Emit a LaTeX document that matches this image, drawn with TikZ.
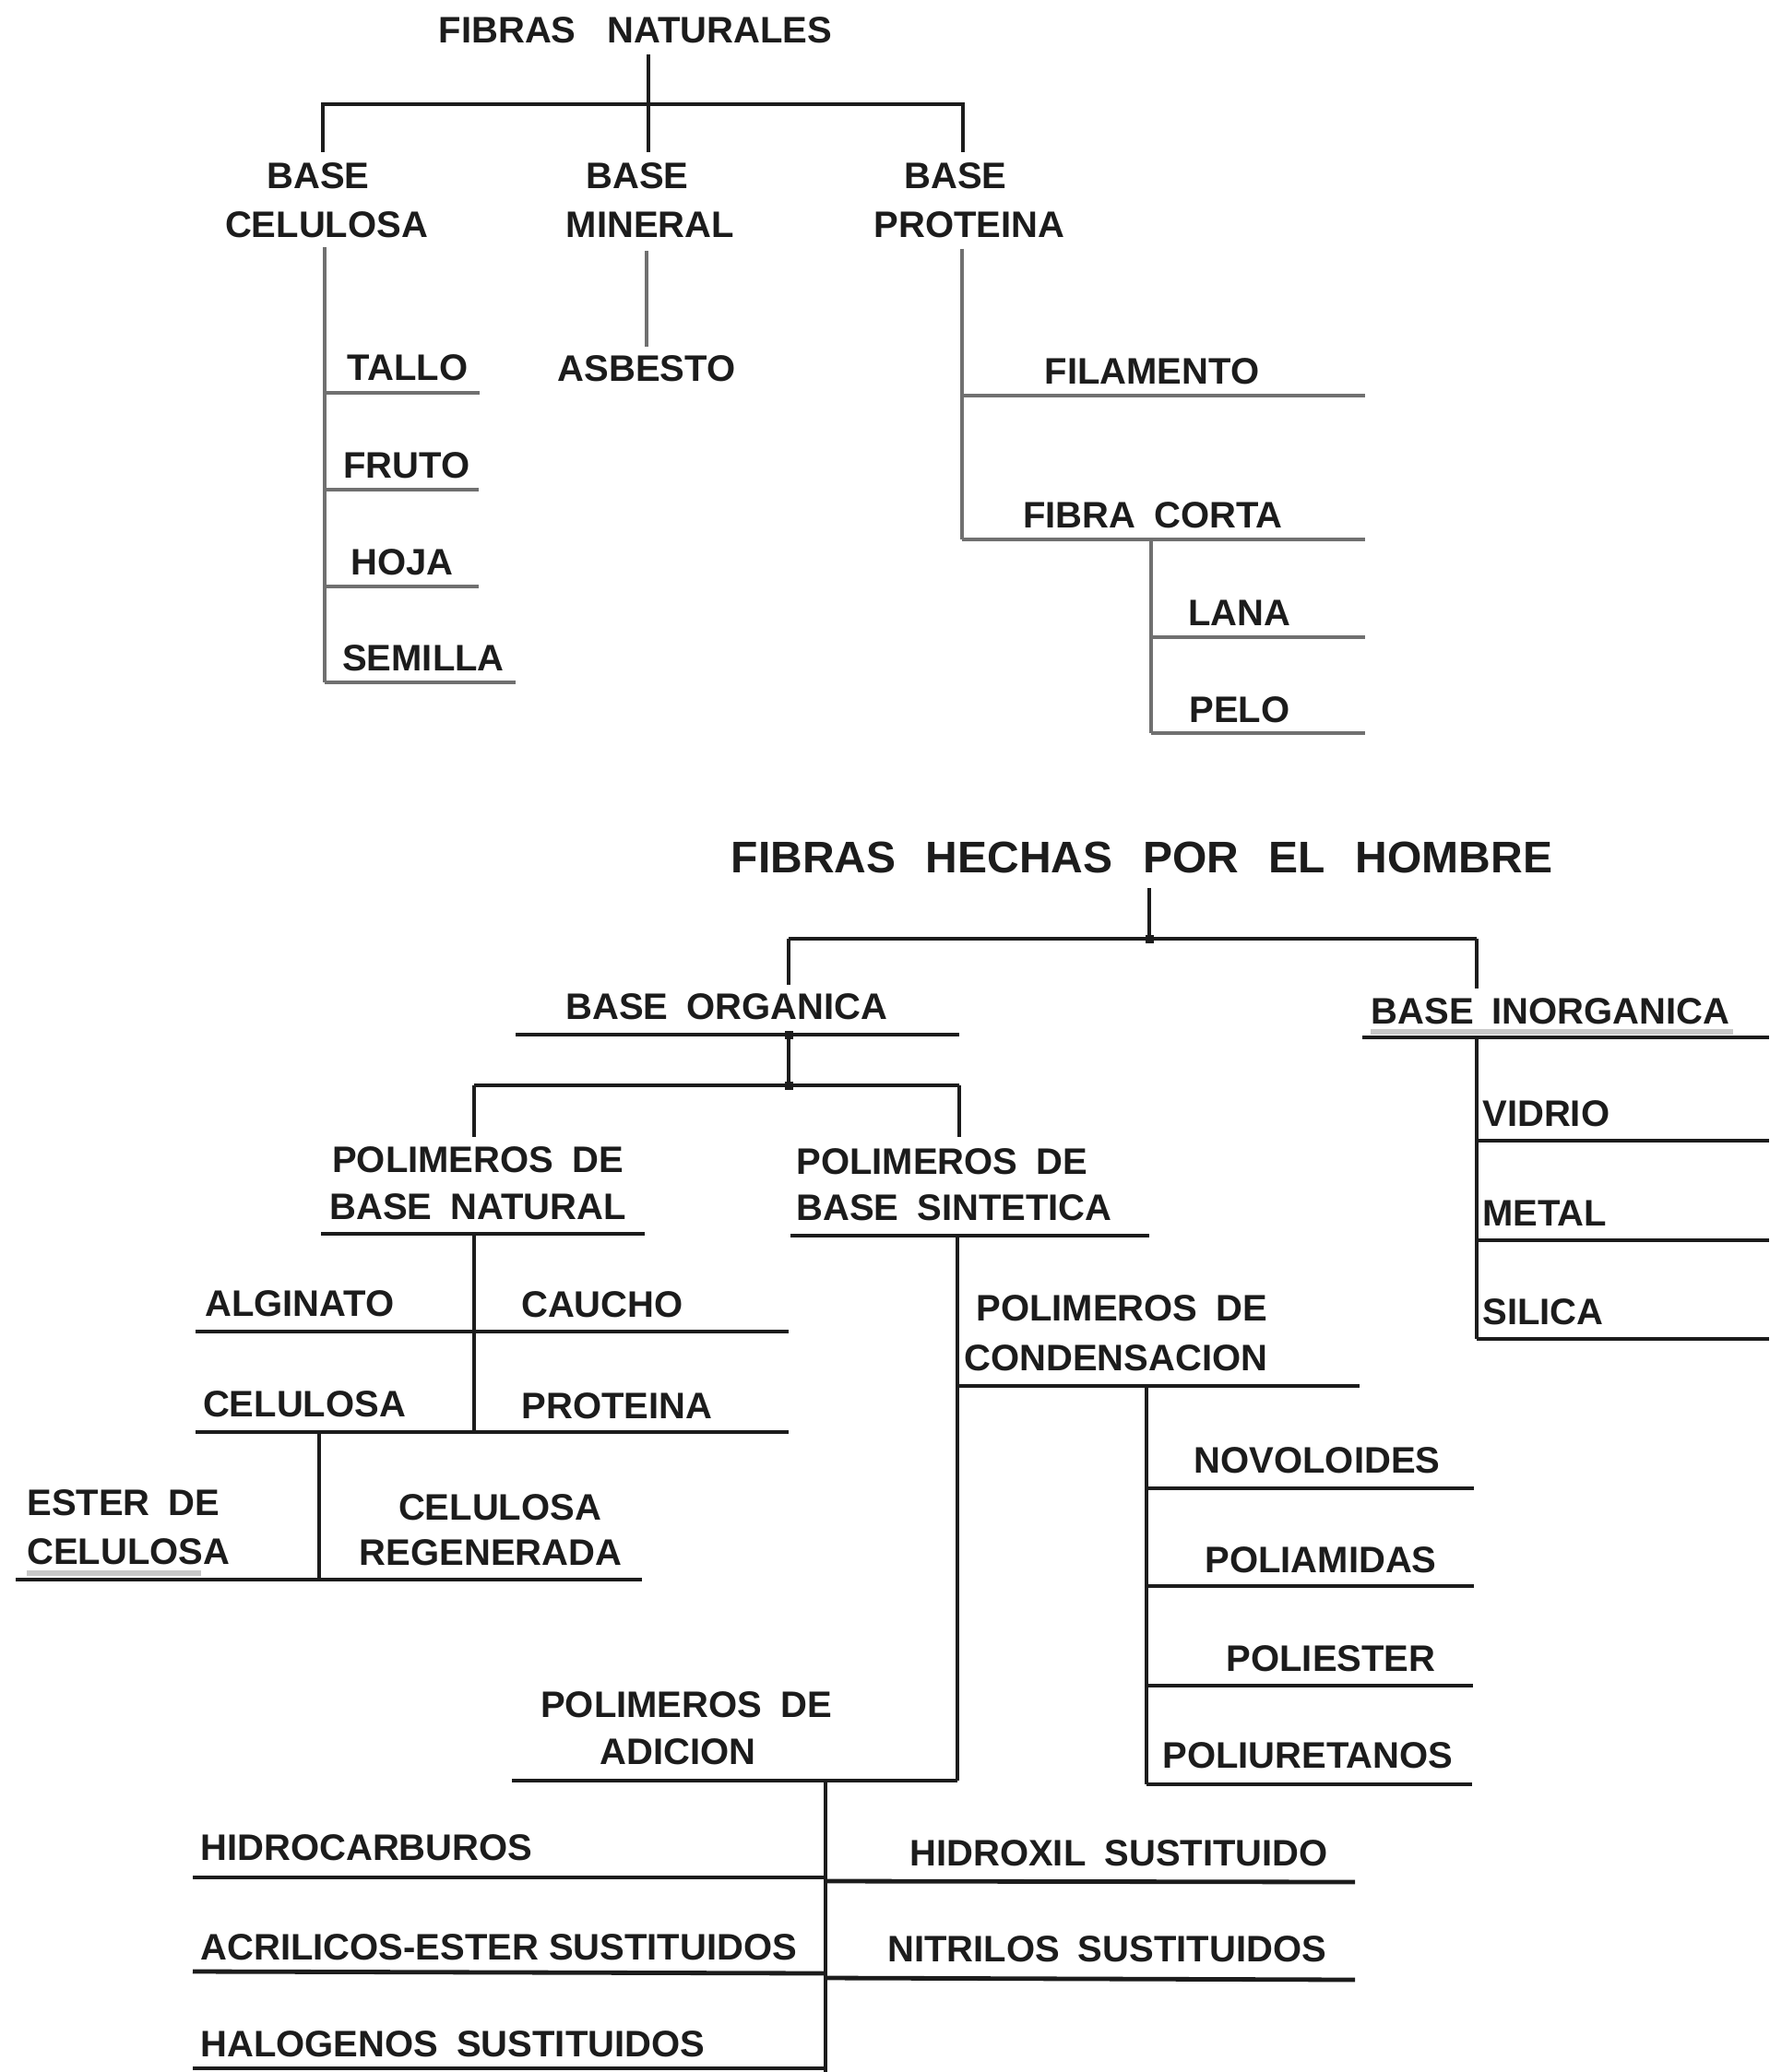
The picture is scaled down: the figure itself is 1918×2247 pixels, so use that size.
\documentclass[tikz,border=0pt]{standalone}
\usepackage{fontspec}
\setmainfont{Liberation Sans}
\definecolor{ink}{RGB}{28,28,28}
\definecolor{lg}{RGB}{112,112,112}
\definecolor{hl}{RGB}{200,200,200}
\newcommand{\sk}{\hspace{0.5em}}
\begin{document}
\begin{tikzpicture}[x=0.5pt,y=-0.5pt,
  lbl/.style={font=\fontsize{20pt}{24pt}\selectfont\bfseries, text=ink, inner sep=0pt, anchor=base},
  lblw/.style={lbl, anchor=base west},
  ttlA/.style={lbl, font=\fontsize{20pt}{24pt}\selectfont\bfseries},
  ttlB/.style={lbl, font=\fontsize{24pt}{28pt}\selectfont\bfseries},
  topbar/.style={draw=ink, line width=2.4pt, line cap=rect},
  topdrop/.style={draw=ink, line width=1.7pt},
  gl/.style={draw=lg, line width=1.6pt},
  bl/.style={draw=ink, line width=2.4pt},
  bv/.style={draw=ink, line width=2pt},
  hil/.style={draw=hl, line width=3pt},
  sq/.style={fill=ink, minimum size=4.5pt, inner sep=0pt, draw=none}]
\useasboundingbox[fill=white] (0,0) rectangle (1918,2247);

% ================= FIBRAS NATURALES =================
\node[ttlA] (fn) at (689,47) {FIBRAS\hspace{0.85em}NATURALES};
\coordinate (fnT) at (703,59);
\coordinate (fnJ) at (703,113);
\coordinate (fnL) at (350,113);
\coordinate (fnR) at (1044,113);
\coordinate (fnLb) at (350,165);
\coordinate (fnMb) at (703,165);
\coordinate (fnRb) at (1044,165);
\draw[topbar] (fnL) -- (fnR);
\draw[topdrop] (fnT) -- (fnMb);
\draw[topdrop] (fnL) -- (fnLb);
\draw[topdrop] (fnR) -- (fnRb);

\node[lbl] (bc1) at (345,205) {BASE};
\node[lbl] (bc2) at (354,258) {CELULOSA};
\node[lbl] (bm1) at (691,205) {BASE};
\node[lbl] (bm2) at (705,258) {MINERAL};
\node[lbl] (bp1) at (1036,205) {BASE};
\node[lbl] (bp2) at (1051,258) {PROTEINA};

% celulosa branch
\coordinate (c0) at (352,268);
\coordinate (c1) at (352,426);
\coordinate (c2) at (352,531);
\coordinate (c3) at (352,636);
\coordinate (c4) at (352,740);
\coordinate (c1e) at (520,426);
\coordinate (c2e) at (519,531);
\coordinate (c3e) at (519,636);
\coordinate (c4e) at (559,740);
\draw[gl] (c0) -- (c4);
\draw[gl] (c1) -- (c1e);
\draw[gl] (c2) -- (c2e);
\draw[gl] (c3) -- (c3e);
\draw[gl] (c4) -- (c4e);
\node[lbl] (tallo) at (442,413) {TALLO};
\node[lbl] (fruto) at (441,518) {FRUTO};
\node[lbl] (hoja) at (436,623) {HOJA};
\node[lbl] (semilla) at (459,727) {SEMILLA};

% mineral branch
\coordinate (m0) at (701,272);
\coordinate (m1) at (701,376);
\draw[gl] (m0) -- (m1);
\node[lbl] (asbesto) at (701,414) {ASBESTO};

% proteina branch
\coordinate (p0) at (1043,270);
\coordinate (p1) at (1043,429);
\coordinate (p2) at (1043,585);
\coordinate (p1e) at (1480,429);
\coordinate (p2e) at (1480,585);
\coordinate (q0) at (1248,585);
\coordinate (q1) at (1248,691);
\coordinate (q2) at (1248,795);
\coordinate (q1e) at (1480,691);
\coordinate (q2e) at (1480,795);
\draw[gl] (p0) -- (p2);
\draw[gl] (p1) -- (p1e);
\draw[gl] (p2) -- (p2e);
\draw[gl] (q0) -- (q2);
\draw[gl] (q1) -- (q1e);
\draw[gl] (q2) -- (q2e);
\node[lbl] (filamento) at (1249,416) {FILAMENTO};
\node[lbl] (fibracorta) at (1250,572) {FIBRA\sk CORTA};
\node[lbl] (lana) at (1344,678) {LANA};
\node[lbl] (pelo) at (1344,783) {PELO};

% ================= FIBRAS HECHAS POR EL HOMBRE =================
\node[ttlB] (fh) at (1238,946) {FIBRAS\hspace{0.68em}HECHAS\hspace{0.68em}POR\hspace{0.68em}EL\hspace{0.68em}HOMBRE};
\coordinate (hT) at (1246,963);
\coordinate (hJ) at (1246,1018);
\coordinate (hL) at (855,1018);
\coordinate (hR) at (1601,1018);
\coordinate (hLb) at (855,1068);
\coordinate (hRb) at (1601,1072);
\draw[bl] (hL) -- (hR);
\draw[bv] (hT) -- (hJ);
\draw[bv] (hL) -- (hLb);
\draw[bv] (hR) -- (hRb);
\node[sq] (sqh) at (hJ) {};

% base organica
\node[lbl] (borg) at (788,1105) {BASE\sk ORGANICA};
\coordinate (oL) at (559,1122);
\coordinate (oR) at (1040,1122);
\coordinate (oJ) at (855,1122);
\coordinate (oJ2) at (855,1177);
\coordinate (o2L) at (514,1177);
\coordinate (o2R) at (1040,1177);
\coordinate (o2Lb) at (514,1233);
\coordinate (o2Rb) at (1040,1233);
\draw[bl] (oL) -- (oR);
\draw[bv] (oJ) -- (oJ2);
\draw[bl] (o2L) -- (o2R);
\draw[bv] (o2L) -- (o2Lb);
\draw[bv] (o2R) -- (o2Rb);
\node[sq] (sqo1) at (oJ) {};
\node[sq] (sqo2) at (oJ2) {};

% base inorganica
\node[lbl] (binorg) at (1681,1110) {BASE\sk INORGANICA};
\coordinate (hi1) at (1486,1119);
\coordinate (hi2) at (1879,1119);
\draw[hil] (hi1) -- (hi2);
\coordinate (iL) at (1477,1125);
\coordinate (iR) at (1918,1125);
\coordinate (i0) at (1601,1125);
\coordinate (i1) at (1601,1237);
\coordinate (i2) at (1601,1345);
\coordinate (i3) at (1601,1452);
\coordinate (i1e) at (1918,1237);
\coordinate (i2e) at (1918,1345);
\coordinate (i3e) at (1918,1452);
\draw[bl] (iL) -- (iR);
\draw[bv] (i0) -- (i3);
\draw[bl] (i1) -- (i1e);
\draw[bl] (i2) -- (i2e);
\draw[bl] (i3) -- (i3e);
\node[lblw] (vidrio) at (1607,1221) {VIDRIO};
\node[lblw] (metal) at (1607,1329) {METAL};
\node[lblw] (silica) at (1607,1436) {SILICA};

% polimeros de base natural
\node[lbl] (pn1) at (518,1271) {POLIMEROS\sk DE};
\node[lbl] (pn2) at (518,1322) {BASE\sk NATURAL};
\coordinate (nL) at (348,1338);
\coordinate (nR) at (699,1338);
\coordinate (n0) at (514,1338);
\coordinate (n2) at (514,1553);
\coordinate (a1L) at (212,1444);
\coordinate (a1R) at (855,1444);
\coordinate (a2L) at (212,1553);
\coordinate (a2R) at (855,1553);
\draw[bl] (nL) -- (nR);
\draw[bv] (n0) -- (n2);
\draw[bl] (a1L) -- (a1R);
\draw[bl] (a2L) -- (a2R);
\node[lbl] (alginato) at (325,1427) {ALGINATO};
\node[lbl] (caucho) at (653,1428) {CAUCHO};
\node[lbl] (celulosa) at (330,1536) {CELULOSA};
\node[lbl] (proteina) at (669,1538) {PROTEINA};
\coordinate (e0) at (346,1553);
\coordinate (e1) at (346,1713);
\coordinate (eL) at (17,1713);
\coordinate (eR) at (696,1713);
\coordinate (eh1) at (29,1706);
\coordinate (eh2) at (218,1706);
\draw[bv] (e0) -- (e1);
\draw[hil] (eh1) -- (eh2);
\draw[bl] (eL) -- (eR);
\node[lblw] (ester1) at (29,1643) {ESTER\sk DE};
\node[lblw] (ester2) at (29,1696) {CELULOSA};
\node[lbl] (reg1) at (542,1648) {CELULOSA};
\node[lbl] (reg2) at (532,1697) {REGENERADA};

% polimeros de base sintetica
\node[lblw] (ps1) at (863,1273) {POLIMEROS\sk DE};
\node[lblw] (ps2) at (863,1323) {BASE\sk SINTETICA};
\coordinate (sL) at (857,1340);
\coordinate (sR) at (1246,1340);
\coordinate (s0) at (1038,1340);
\coordinate (sB) at (1038,1931);
\draw[bl] (sL) -- (sR);
\draw[bv] (s0) -- (sB);

% condensacion
\node[lblw] (pc1) at (1058,1432) {POLIMEROS\sk DE};
\node[lblw] (pc2) at (1045,1486) {CONDENSACION};
\coordinate (kL) at (1038,1503);
\coordinate (kR) at (1474,1503);
\coordinate (k0) at (1243,1503);
\coordinate (k4) at (1243,1935);
\coordinate (k1) at (1243,1614);
\coordinate (k2) at (1243,1720);
\coordinate (k3) at (1243,1828);
\coordinate (k1e) at (1598,1614);
\coordinate (k2e) at (1598,1720);
\coordinate (k3e) at (1597,1828);
\coordinate (k4e) at (1596,1935);
\draw[bl] (kL) -- (kR);
\draw[bv] (k0) -- (k4);
\draw[bl] (k1) -- (k1e);
\draw[bl] (k2) -- (k2e);
\draw[bl] (k3) -- (k3e);
\draw[bl] (k4) -- (k4e);
\node[lbl] (novo) at (1428,1597) {NOVOLOIDES};
\node[lbl] (poliam) at (1432,1705) {POLIAMIDAS};
\node[lbl] (poliest) at (1443,1812) {POLIESTER};
\node[lbl] (poliur) at (1418,1917) {POLIURETANOS};

% adicion
\node[lbl] (pa1) at (744,1862) {POLIMEROS\sk DE};
\node[lbl] (pa2) at (735,1913) {ADICION};
\coordinate (dL) at (555,1931);
\coordinate (d0) at (895,1931);
\coordinate (dB) at (895,2247);
\draw[bl] (dL) -- (sB);
\draw[bv] (d0) -- (dB);
\coordinate (r1L) at (209,2036);
\coordinate (r1M) at (895,2036);
\coordinate (r1N) at (895,2040);
\coordinate (r1R) at (1469,2041);
\coordinate (r2L) at (209,2138);
\coordinate (r2M) at (895,2140);
\coordinate (r2N) at (895,2145);
\coordinate (r2R) at (1469,2147);
\coordinate (r3L) at (209,2243);
\coordinate (r3M) at (895,2243);
\draw[bl] (r1L) -- (r1M);
\draw[bl] (r1N) -- (r1R);
\draw[bl] (r2L) -- (r2M);
\draw[bl] (r2N) -- (r2R);
\draw[bl] (r3L) -- (r3M);
\node[lblw] (hidro) at (217,2017) {HIDROCARBUROS};
\node[lbl] (hidrox) at (1213,2023) {HIDROXIL\sk SUSTITUIDO};
\node[lblw] (acril) at (217,2125) {ACRILICOS-ESTER SUSTITUIDOS};
\node[lbl] (nitr) at (1200,2127) {NITRILOS\sk SUSTITUIDOS};
\node[lblw] (halo) at (217,2230) {HALOGENOS\sk SUSTITUIDOS};
\end{tikzpicture}
\end{document}
